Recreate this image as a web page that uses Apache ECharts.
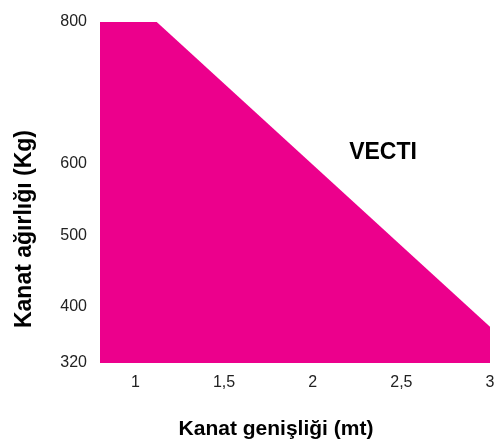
<!doctype html>
<html lang="tr">
<head>
<meta charset="UTF-8">
<title>VECTI</title>
<script src="https://cdn.jsdelivr.net/npm/echarts@6/dist/echarts.min.js"></script>
<style>
  html, body { margin: 0; padding: 0; background: #fff; }
  #chart { width: 502px; height: 441px; }
</style>
</head>
<body>
<div id="chart"></div>
<script type="text/javascript">
    // kanat genişliği (mt) / kanat ağırlığı (Kg)
    var widths = [0.8, 1.12, 3];
    var weights = [800, 800, 371];
    var xTicks = [1, 1.5, 2, 2.5, 3];
    var yTicks = [320, 400, 500, 600, 800];

    var chart = echarts.init(document.getElementById('chart'));
    var font = '"Liberation Sans", Arial, sans-serif';

    var points = [];
    for (var i = 0; i < widths.length; i++) {
        points.push([widths[i], weights[i]]);
    }

    var option = {
        animation: false,
        grid: { left: 100, right: 12, top: 22, bottom: 78 },
        xAxis: {
            type: 'value',
            min: 0.8,
            max: 3,
            axisLine: { show: false },
            axisTick: { show: false },
            splitLine: { show: false },
            axisLabel: {
                customValues: xTicks,
                margin: 12,
                fontFamily: font,
                fontSize: 16,
                color: '#222',
                formatter: function (v) { return String(v).replace('.', ','); }
            }
        },
        yAxis: {
            type: 'value',
            min: 320,
            max: 800,
            axisLine: { show: false },
            axisTick: { show: false },
            splitLine: { show: false },
            axisLabel: {
                customValues: yTicks,
                margin: 13,
                padding: [0, 0, 12, 0],
                fontFamily: font,
                fontSize: 16,
                color: '#222'
            }
        },
        series: [{
            type: 'line',
            data: points,
            symbol: 'none',
            lineStyle: { width: 0 },
            areaStyle: { color: '#EC008C', opacity: 1, origin: 'start' }
        }],
        graphic: [
            {
                type: 'text', x: 276, y: 429,
                style: { text: 'Kanat genişliği (mt)', font: 'bold 21px ' + font, fill: '#000',
                    textAlign: 'center', textVerticalAlign: 'middle' }
            },
            {
                type: 'text', x: 25, y: 229, rotation: Math.PI / 2,
                style: { text: 'Kanat ağırlığı (Kg)', font: 'bold 23px ' + font, fill: '#000',
                    textAlign: 'center', textVerticalAlign: 'middle' }
            },
            {
                type: 'text', x: 383, y: 153,
                style: { text: 'VECTI', font: 'bold 23px ' + font, fill: '#000',
                    textAlign: 'center', textVerticalAlign: 'middle' }
            }
        ]
    };
    chart.setOption(option);
</script>
</body>
</html>
